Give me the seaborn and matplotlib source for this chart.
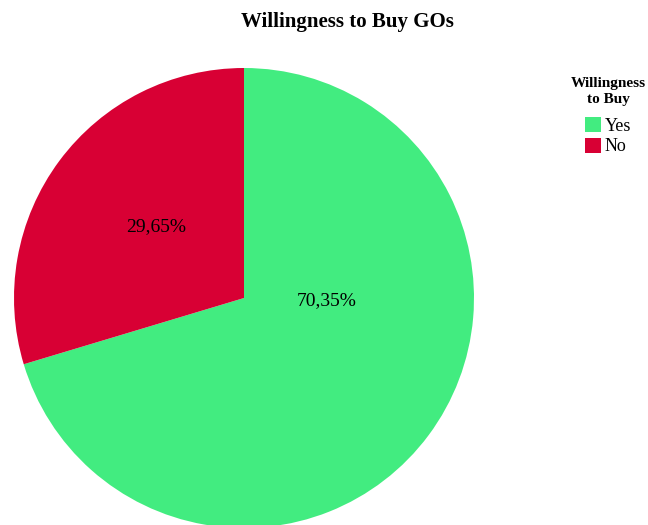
import matplotlib
matplotlib.use("Agg")
import matplotlib.pyplot as plt
import seaborn as sns

# data
answers = ["Yes", "No"]
shares = [70.35, 29.65]
colors = ["#42EC80", "#D80034"]

sns.set_theme(style="white")
plt.rcParams['font.family'] = ['Liberation Serif', 'DejaVu Serif']
plt.rcParams['text.color'] = 'black'

fig = plt.figure(figsize=(6.48, 5.25), dpi=100)
ax = fig.add_axes([14/648, -3/525, 460/648, 460/525])

wedges, texts, pcts = ax.pie(shares, colors=colors, startangle=90, counterclock=False,
                             autopct=lambda p: f"{p:.2f}%".replace(".", ","),
                             pctdistance=0.5, wedgeprops={'linewidth': 0},
                             textprops={'fontsize': 14, 'color': 'black'})
# SPSS-like label placement
pcts[0].set_position((0.36, -0.01))
pcts[1].set_position((-0.38, 0.31))
ax.set_xlim(-1, 1)
ax.set_ylim(-1, 1)
ax.set_aspect('equal')
ax.axis('off')

fig.text(347/648, 1 - 22/525, "Willingness to Buy GOs", ha='center', va='center',
         fontsize=15, fontweight='bold', color='black')

leg = fig.legend(wedges, answers, title="Willingness\nto Buy", loc='upper center',
                 bbox_to_anchor=(608/648, 1 - 77/525), frameon=False, fontsize=13,
                 title_fontproperties={'weight': 'bold', 'size': 11},
                 alignment='center', borderpad=0, borderaxespad=0,
                 handlelength=0.9, handleheight=0.9, handletextpad=0.2, labelspacing=0.15)
for t in leg.get_texts():
    t.set_color('black')
leg.get_title().set_color('black')
leg.get_title().set_multialignment('center')
leg.get_title().set_linespacing(1.3)
leg._legend_box.sep = 8

fig.savefig("out.png", dpi=100)
